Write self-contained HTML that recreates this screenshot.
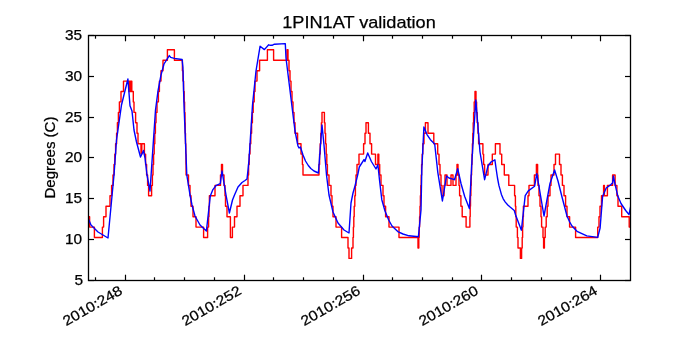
<!DOCTYPE html>
<html><head><meta charset="utf-8"><style>
html,body{margin:0;padding:0;background:#fff;}
svg{display:block;will-change:transform;}
text{font-family:"Liberation Sans", sans-serif;fill:#000;stroke:#000;stroke-width:0.25px;}
</style></head><body>
<svg width="700" height="350" viewBox="0 0 700 350">
<rect x="0" y="0" width="700" height="350" fill="#fff"/>
<clipPath id="c"><rect x="88" y="35" width="542" height="245"/></clipPath>
<polyline clip-path="url(#c)" points="88.0,216.7 89.6,216.7 89.6,227.1 94.4,227.1 94.4,237.5 102.4,237.5 102.4,227.1 103.6,227.1 103.6,216.7 106.0,216.7 106.0,206.2 110.0,206.2 110.0,195.8 111.6,195.8 111.6,185.4 113.0,185.4 113.0,175.0 114.0,175.0 114.0,164.5 114.8,164.5 114.8,154.1 115.6,154.1 115.6,143.7 116.6,143.7 116.6,133.2 117.4,133.2 117.4,122.8 118.4,122.8 118.4,112.4 119.4,112.4 119.4,101.9 121.0,101.9 121.0,91.5 123.5,91.5 123.5,81.1 129.0,81.1 129.0,91.5 129.6,91.5 129.6,81.1 130.4,81.1 130.4,91.5 131.0,91.5 131.0,81.1 131.8,81.1 131.8,91.5 133.3,91.5 133.3,101.9 134.0,101.9 134.0,112.4 135.6,112.4 135.6,122.8 137.0,122.8 137.0,133.2 138.0,133.2 138.0,143.7 141.0,143.7 141.0,154.1 141.8,154.1 141.8,143.7 144.4,143.7 144.4,154.1 145.6,154.1 145.6,164.5 146.6,164.5 146.6,175.0 147.6,175.0 147.6,185.4 148.6,185.4 148.6,195.8 151.6,195.8 151.6,185.4 152.4,185.4 152.4,175.0 153.0,175.0 153.0,164.5 153.6,164.5 153.6,154.1 154.2,154.1 154.2,143.7 154.8,143.7 154.8,133.2 155.4,133.2 155.4,122.8 156.0,122.8 156.0,112.4 157.0,112.4 157.0,101.9 158.4,101.9 158.4,91.5 159.4,91.5 159.4,81.1 161.0,81.1 161.0,70.7 163.0,70.7 163.0,60.2 167.4,60.2 167.4,49.8 174.4,49.8 174.4,60.2 182.4,60.2 182.4,70.7 183.0,70.7 183.0,81.1 183.6,81.1 183.6,91.5 184.2,91.5 184.2,101.9 184.6,101.9 184.6,112.4 185.0,112.4 185.0,122.8 185.2,122.8 185.2,133.2 185.5,133.2 185.5,143.7 185.8,143.7 185.8,154.1 186.0,154.1 186.0,164.5 186.1,164.5 186.1,175.0 188.5,175.0 188.5,185.4 190.0,185.4 190.0,195.8 191.0,195.8 191.0,206.2 193.0,206.2 193.0,216.7 196.0,216.7 196.0,227.1 203.6,227.1 203.6,237.5 207.6,237.5 207.6,227.1 208.6,227.1 208.6,216.7 209.0,216.7 209.0,206.2 209.4,206.2 209.4,195.8 215.0,195.8 215.0,185.4 220.5,185.4 220.5,175.0 221.5,175.0 221.5,164.5 222.5,164.5 222.5,175.0 224.0,175.0 224.0,185.4 225.0,185.4 225.0,195.8 225.5,195.8 225.5,206.2 227.0,206.2 227.0,216.7 230.4,216.7 230.4,237.5 232.4,237.5 232.4,227.1 234.5,227.1 234.5,216.7 237.0,216.7 237.0,206.2 240.0,206.2 240.0,195.8 243.0,195.8 243.0,185.4 248.0,185.4 248.0,175.0 248.6,175.0 248.6,164.5 249.2,164.5 249.2,154.1 250.0,154.1 250.0,143.7 250.8,143.7 250.8,133.2 251.6,133.2 251.6,122.8 252.4,122.8 252.4,112.4 253.2,112.4 253.2,101.9 254.2,101.9 254.2,91.5 255.0,91.5 255.0,81.1 257.0,81.1 257.0,70.7 259.6,70.7 259.6,60.2 267.4,60.2 267.4,49.8 273.6,49.8 273.6,60.2 287.0,60.2 287.0,49.8 288.0,49.8 288.0,60.2 289.0,60.2 289.0,70.7 290.0,70.7 290.0,81.1 291.0,81.1 291.0,91.5 292.0,91.5 292.0,101.9 293.0,101.9 293.0,112.4 294.0,112.4 294.0,122.8 295.0,122.8 295.0,133.2 297.6,133.2 297.6,143.7 301.0,143.7 301.0,154.1 302.4,154.1 302.4,164.5 303.0,164.5 303.0,175.0 319.0,175.0 319.0,164.5 319.6,164.5 319.6,154.1 320.2,154.1 320.2,143.7 320.8,143.7 320.8,133.2 321.4,133.2 321.4,122.8 322.0,122.8 322.0,112.4 324.4,112.4 324.4,122.8 325.0,122.8 325.0,133.2 325.6,133.2 325.6,143.7 326.2,143.7 326.2,154.1 326.8,154.1 326.8,164.5 327.4,164.5 327.4,175.0 329.0,175.0 329.0,185.4 331.0,185.4 331.0,195.8 332.0,195.8 332.0,206.2 333.0,206.2 333.0,216.7 336.0,216.7 336.0,227.1 341.6,227.1 341.6,237.5 348.0,237.5 348.0,248.0 349.0,248.0 349.0,258.4 351.6,258.4 351.6,248.0 353.0,248.0 353.0,237.5 353.4,237.5 353.4,227.1 353.8,227.1 353.8,216.7 354.2,216.7 354.2,206.2 354.8,206.2 354.8,195.8 355.4,195.8 355.4,185.4 356.0,185.4 356.0,175.0 357.0,175.0 357.0,164.5 359.0,164.5 359.0,154.1 363.6,154.1 363.6,143.7 365.0,143.7 365.0,133.2 366.0,133.2 366.0,122.8 368.4,122.8 368.4,133.2 370.0,133.2 370.0,143.7 371.6,143.7 371.6,154.1 375.5,154.1 375.5,164.5 377.9,164.5 377.9,154.1 378.8,154.1 378.8,164.5 379.7,164.5 379.7,175.0 381.0,175.0 381.0,185.4 383.0,185.4 383.0,195.8 384.0,195.8 384.0,206.2 385.6,206.2 385.6,216.7 389.0,216.7 389.0,227.1 399.0,227.1 399.0,237.5 418.0,237.5 418.0,248.0 418.8,248.0 418.8,237.5 419.2,237.5 419.2,227.1 419.6,227.1 419.6,216.7 420.0,216.7 420.0,206.2 420.4,206.2 420.4,195.8 420.8,195.8 420.8,185.4 421.2,185.4 421.2,175.0 421.6,175.0 421.6,164.5 422.2,164.5 422.2,154.1 422.8,154.1 422.8,143.7 424.0,143.7 424.0,133.2 425.4,133.2 425.4,122.8 428.0,122.8 428.0,133.2 433.8,133.2 433.8,143.7 437.7,143.7 437.7,154.1 439.0,154.1 439.0,164.5 440.0,164.5 440.0,175.0 441.0,175.0 441.0,185.4 442.0,185.4 442.0,195.8 444.0,195.8 444.0,185.4 445.0,185.4 445.0,175.0 447.0,175.0 447.0,185.4 451.0,185.4 451.0,175.0 453.0,175.0 453.0,185.4 456.0,185.4 456.0,175.0 457.0,175.0 457.0,164.5 458.0,164.5 458.0,175.0 459.0,175.0 459.0,185.4 459.6,185.4 459.6,195.8 460.9,195.8 460.9,206.2 462.2,206.2 462.2,216.7 466.1,216.7 466.1,227.1 469.9,227.1 469.9,216.7 470.2,216.7 470.2,206.2 470.5,206.2 470.5,195.8 470.9,195.8 470.9,185.4 471.2,185.4 471.2,175.0 471.6,175.0 471.6,164.5 472.0,164.5 472.0,154.1 472.4,154.1 472.4,143.7 472.8,143.7 472.8,133.2 473.2,133.2 473.2,122.8 473.6,122.8 473.6,112.4 474.2,112.4 474.2,101.9 475.0,101.9 475.0,91.5 476.0,91.5 476.0,101.9 476.6,101.9 476.6,112.4 477.2,112.4 477.2,122.8 478.0,122.8 478.0,133.2 478.6,133.2 478.6,143.7 482.9,143.7 482.9,154.1 483.6,154.1 483.6,164.5 484.6,164.5 484.6,175.0 488.0,175.0 488.0,164.5 492.3,164.5 492.3,154.1 495.4,154.1 495.4,143.7 500.0,143.7 500.0,154.1 501.7,154.1 501.7,164.5 504.3,164.5 504.3,175.0 508.8,175.0 508.8,185.4 514.6,185.4 514.6,195.8 515.4,195.8 515.4,206.2 515.8,206.2 515.8,216.7 516.2,216.7 516.2,227.1 517.4,227.1 517.4,237.5 518.0,237.5 518.0,248.0 520.4,248.0 520.4,258.4 521.6,258.4 521.6,248.0 522.2,248.0 522.2,237.5 522.6,237.5 522.6,227.1 523.0,227.1 523.0,216.7 523.4,216.7 523.4,206.2 528.0,206.2 528.0,195.8 529.0,195.8 529.0,185.4 534.4,185.4 534.4,175.0 536.4,175.0 536.4,164.5 537.6,164.5 537.6,175.0 538.0,175.0 538.0,185.4 539.0,185.4 539.0,195.8 540.0,195.8 540.0,206.2 541.0,206.2 541.0,216.7 541.6,216.7 541.6,227.1 543.0,227.1 543.0,237.5 543.6,237.5 543.6,248.0 544.4,248.0 544.4,237.5 545.2,237.5 545.2,227.1 546.2,227.1 546.2,216.7 547.2,216.7 547.2,206.2 548.0,206.2 548.0,195.8 550.0,195.8 550.0,185.4 551.0,185.4 551.0,175.0 554.0,175.0 554.0,164.5 555.5,164.5 555.5,154.1 559.5,154.1 559.5,164.5 561.0,164.5 561.0,175.0 562.4,175.0 562.4,185.4 564.0,185.4 564.0,195.8 565.6,195.8 565.6,206.2 567.0,206.2 567.0,216.7 569.6,216.7 569.6,227.1 575.6,227.1 575.6,237.5 597.7,237.5 597.7,227.1 599.0,227.1 599.0,216.7 600.0,216.7 600.0,206.2 601.5,206.2 601.5,195.8 603.6,195.8 603.6,185.4 604.4,185.4 604.4,195.8 607.4,195.8 607.4,185.4 612.6,185.4 612.6,175.0 615.1,175.0 615.1,185.4 616.9,185.4 616.9,195.8 618.0,195.8 618.0,206.2 621.7,206.2 621.7,216.7 629.2,216.7 629.2,227.1 631.0,227.1 631.0,227.1 631.0,227.1" fill="none" stroke="#ff0000" stroke-width="1.4" stroke-linejoin="round" stroke-linecap="butt"/>
<polyline clip-path="url(#c)" points="88.0,218.0 91.0,225.0 98.0,232.0 108.0,238.0 114.0,175.0 116.5,140.0 121.5,105.0 127.9,79.0 130.0,105.7 132.0,111.0 134.0,130.0 136.5,142.0 140.5,157.0 143.5,150.5 145.0,158.0 147.0,175.0 150.0,191.0 155.5,110.0 158.0,91.0 161.0,75.0 164.0,64.0 169.3,55.6 170.7,57.4 174.3,58.4 182.1,59.5 182.9,67.0 184.0,105.0 186.8,175.0 190.0,195.0 192.0,205.0 195.0,216.0 200.0,225.0 206.4,231.0 210.3,196.0 212.9,189.6 216.3,185.3 220.3,183.6 222.0,171.0 226.0,195.0 229.4,213.0 232.5,200.0 234.5,195.0 238.0,187.0 242.0,182.5 245.0,180.5 247.0,179.0 248.0,170.0 249.0,160.0 252.5,105.0 256.0,71.0 260.1,46.2 264.4,49.6 268.7,44.8 270.4,45.3 272.1,45.3 274.4,44.2 285.3,43.6 286.0,58.0 291.8,105.0 295.0,131.0 298.0,146.0 299.0,148.0 300.4,147.0 303.0,155.0 305.5,161.0 308.3,165.5 310.8,168.5 314.0,171.0 318.4,173.0 322.0,125.0 324.0,145.0 326.5,175.0 329.0,195.0 333.0,212.0 338.0,223.0 344.0,230.0 349.0,233.0 351.0,203.0 353.0,193.0 355.0,186.0 358.0,173.5 359.3,167.0 364.0,159.6 364.9,161.5 367.7,153.0 371.4,161.5 376.0,169.0 377.9,164.8 379.5,180.0 381.8,199.7 385.0,211.0 388.7,220.0 392.0,226.0 397.8,231.6 403.0,234.0 409.0,235.8 418.4,236.7 421.0,210.0 421.8,170.0 423.9,127.0 427.0,134.6 430.4,139.7 434.7,144.0 437.8,172.3 442.4,201.0 446.5,176.0 449.0,178.0 454.5,179.7 457.7,168.6 461.0,183.5 464.7,196.5 469.4,208.6 472.0,160.0 475.8,100.0 480.0,152.0 484.6,179.7 488.0,166.0 491.0,162.0 494.9,159.8 496.3,170.0 497.5,178.0 498.9,185.4 501.4,194.4 503.2,198.8 505.3,202.1 507.8,205.0 510.4,207.3 514.3,210.5 515.6,215.0 521.4,230.2 525.2,195.6 528.3,190.9 534.6,186.2 536.8,173.6 544.0,216.0 550.0,183.5 554.6,170.0 558.0,181.0 562.0,197.0 567.0,216.0 569.7,222.0 572.0,226.0 577.0,231.3 586.8,235.9 597.7,237.4 600.1,228.0 602.6,196.5 606.2,188.0 610.9,184.6 612.6,182.9 613.4,176.0 615.1,184.6 617.7,195.7 619.5,200.0 621.0,203.5 625.7,210.5 629.0,214.6 631.0,205.0" fill="none" stroke="#0000ff" stroke-width="1.4" stroke-linejoin="round" stroke-linecap="butt"/>
<rect x="88.5" y="35.5" width="542" height="245" fill="none" stroke="#000" stroke-width="1.3"/>
<line x1="88.5" y1="280.5" x2="94" y2="280.5" stroke="#000" stroke-width="1.2"/>
<line x1="630.5" y1="280.5" x2="625" y2="280.5" stroke="#000" stroke-width="1.2"/>
<text x="83.0" y="285.1" text-anchor="end" font-size="14" textLength="8.6" lengthAdjust="spacingAndGlyphs">5</text>
<line x1="88.5" y1="239.5" x2="94" y2="239.5" stroke="#000" stroke-width="1.2"/>
<line x1="630.5" y1="239.5" x2="625" y2="239.5" stroke="#000" stroke-width="1.2"/>
<text x="82.1" y="244.1" text-anchor="end" font-size="14" textLength="17.1" lengthAdjust="spacingAndGlyphs">10</text>
<line x1="88.5" y1="198.5" x2="94" y2="198.5" stroke="#000" stroke-width="1.2"/>
<line x1="630.5" y1="198.5" x2="625" y2="198.5" stroke="#000" stroke-width="1.2"/>
<text x="82.1" y="203.1" text-anchor="end" font-size="14" textLength="17.1" lengthAdjust="spacingAndGlyphs">15</text>
<line x1="88.5" y1="157.5" x2="94" y2="157.5" stroke="#000" stroke-width="1.2"/>
<line x1="630.5" y1="157.5" x2="625" y2="157.5" stroke="#000" stroke-width="1.2"/>
<text x="82.1" y="162.1" text-anchor="end" font-size="14" textLength="17.1" lengthAdjust="spacingAndGlyphs">20</text>
<line x1="88.5" y1="117.5" x2="94" y2="117.5" stroke="#000" stroke-width="1.2"/>
<line x1="630.5" y1="117.5" x2="625" y2="117.5" stroke="#000" stroke-width="1.2"/>
<text x="82.1" y="122.1" text-anchor="end" font-size="14" textLength="17.1" lengthAdjust="spacingAndGlyphs">25</text>
<line x1="88.5" y1="76.5" x2="94" y2="76.5" stroke="#000" stroke-width="1.2"/>
<line x1="630.5" y1="76.5" x2="625" y2="76.5" stroke="#000" stroke-width="1.2"/>
<text x="82.1" y="81.1" text-anchor="end" font-size="14" textLength="17.1" lengthAdjust="spacingAndGlyphs">30</text>
<line x1="88.5" y1="35.5" x2="94" y2="35.5" stroke="#000" stroke-width="1.2"/>
<line x1="630.5" y1="35.5" x2="625" y2="35.5" stroke="#000" stroke-width="1.2"/>
<text x="82.1" y="40.1" text-anchor="end" font-size="14" textLength="17.1" lengthAdjust="spacingAndGlyphs">35</text>
<line x1="95.5" y1="280.5" x2="95.5" y2="277.3" stroke="#000" stroke-width="1.2"/>
<line x1="95.5" y1="35.5" x2="95.5" y2="38.7" stroke="#000" stroke-width="1.2"/>
<line x1="125.5" y1="280.5" x2="125.5" y2="274.7" stroke="#000" stroke-width="1.2"/>
<line x1="125.5" y1="35.5" x2="125.5" y2="41.3" stroke="#000" stroke-width="1.2"/>
<text transform="translate(118.4,284.7) rotate(-30)" text-anchor="end" font-size="14" dy="10" textLength="66" lengthAdjust="spacingAndGlyphs">2010:248</text>
<line x1="154.5" y1="280.5" x2="154.5" y2="277.3" stroke="#000" stroke-width="1.2"/>
<line x1="154.5" y1="35.5" x2="154.5" y2="38.7" stroke="#000" stroke-width="1.2"/>
<line x1="184.5" y1="280.5" x2="184.5" y2="277.3" stroke="#000" stroke-width="1.2"/>
<line x1="184.5" y1="35.5" x2="184.5" y2="38.7" stroke="#000" stroke-width="1.2"/>
<line x1="214.5" y1="280.5" x2="214.5" y2="277.3" stroke="#000" stroke-width="1.2"/>
<line x1="214.5" y1="35.5" x2="214.5" y2="38.7" stroke="#000" stroke-width="1.2"/>
<line x1="244.5" y1="280.5" x2="244.5" y2="274.7" stroke="#000" stroke-width="1.2"/>
<line x1="244.5" y1="35.5" x2="244.5" y2="41.3" stroke="#000" stroke-width="1.2"/>
<text transform="translate(237.4,284.7) rotate(-30)" text-anchor="end" font-size="14" dy="10" textLength="66" lengthAdjust="spacingAndGlyphs">2010:252</text>
<line x1="273.5" y1="280.5" x2="273.5" y2="277.3" stroke="#000" stroke-width="1.2"/>
<line x1="273.5" y1="35.5" x2="273.5" y2="38.7" stroke="#000" stroke-width="1.2"/>
<line x1="303.5" y1="280.5" x2="303.5" y2="277.3" stroke="#000" stroke-width="1.2"/>
<line x1="303.5" y1="35.5" x2="303.5" y2="38.7" stroke="#000" stroke-width="1.2"/>
<line x1="333.5" y1="280.5" x2="333.5" y2="277.3" stroke="#000" stroke-width="1.2"/>
<line x1="333.5" y1="35.5" x2="333.5" y2="38.7" stroke="#000" stroke-width="1.2"/>
<line x1="363.5" y1="280.5" x2="363.5" y2="274.7" stroke="#000" stroke-width="1.2"/>
<line x1="363.5" y1="35.5" x2="363.5" y2="41.3" stroke="#000" stroke-width="1.2"/>
<text transform="translate(356.4,284.7) rotate(-30)" text-anchor="end" font-size="14" dy="10" textLength="66" lengthAdjust="spacingAndGlyphs">2010:256</text>
<line x1="392.5" y1="280.5" x2="392.5" y2="277.3" stroke="#000" stroke-width="1.2"/>
<line x1="392.5" y1="35.5" x2="392.5" y2="38.7" stroke="#000" stroke-width="1.2"/>
<line x1="422.5" y1="280.5" x2="422.5" y2="277.3" stroke="#000" stroke-width="1.2"/>
<line x1="422.5" y1="35.5" x2="422.5" y2="38.7" stroke="#000" stroke-width="1.2"/>
<line x1="452.5" y1="280.5" x2="452.5" y2="277.3" stroke="#000" stroke-width="1.2"/>
<line x1="452.5" y1="35.5" x2="452.5" y2="38.7" stroke="#000" stroke-width="1.2"/>
<line x1="481.5" y1="280.5" x2="481.5" y2="274.7" stroke="#000" stroke-width="1.2"/>
<line x1="481.5" y1="35.5" x2="481.5" y2="41.3" stroke="#000" stroke-width="1.2"/>
<text transform="translate(474.4,284.7) rotate(-30)" text-anchor="end" font-size="14" dy="10" textLength="66" lengthAdjust="spacingAndGlyphs">2010:260</text>
<line x1="511.5" y1="280.5" x2="511.5" y2="277.3" stroke="#000" stroke-width="1.2"/>
<line x1="511.5" y1="35.5" x2="511.5" y2="38.7" stroke="#000" stroke-width="1.2"/>
<line x1="541.5" y1="280.5" x2="541.5" y2="277.3" stroke="#000" stroke-width="1.2"/>
<line x1="541.5" y1="35.5" x2="541.5" y2="38.7" stroke="#000" stroke-width="1.2"/>
<line x1="571.5" y1="280.5" x2="571.5" y2="277.3" stroke="#000" stroke-width="1.2"/>
<line x1="571.5" y1="35.5" x2="571.5" y2="38.7" stroke="#000" stroke-width="1.2"/>
<line x1="600.5" y1="280.5" x2="600.5" y2="274.7" stroke="#000" stroke-width="1.2"/>
<line x1="600.5" y1="35.5" x2="600.5" y2="41.3" stroke="#000" stroke-width="1.2"/>
<text transform="translate(593.4,284.7) rotate(-30)" text-anchor="end" font-size="14" dy="10" textLength="66" lengthAdjust="spacingAndGlyphs">2010:264</text>
<text x="359" y="27.9" text-anchor="middle" font-size="17" textLength="153.5" lengthAdjust="spacingAndGlyphs">1PIN1AT validation</text>
<text transform="translate(55.1,157.5) rotate(-90)" text-anchor="middle" font-size="14" textLength="82" lengthAdjust="spacingAndGlyphs">Degrees (C)</text>
</svg></body></html>
